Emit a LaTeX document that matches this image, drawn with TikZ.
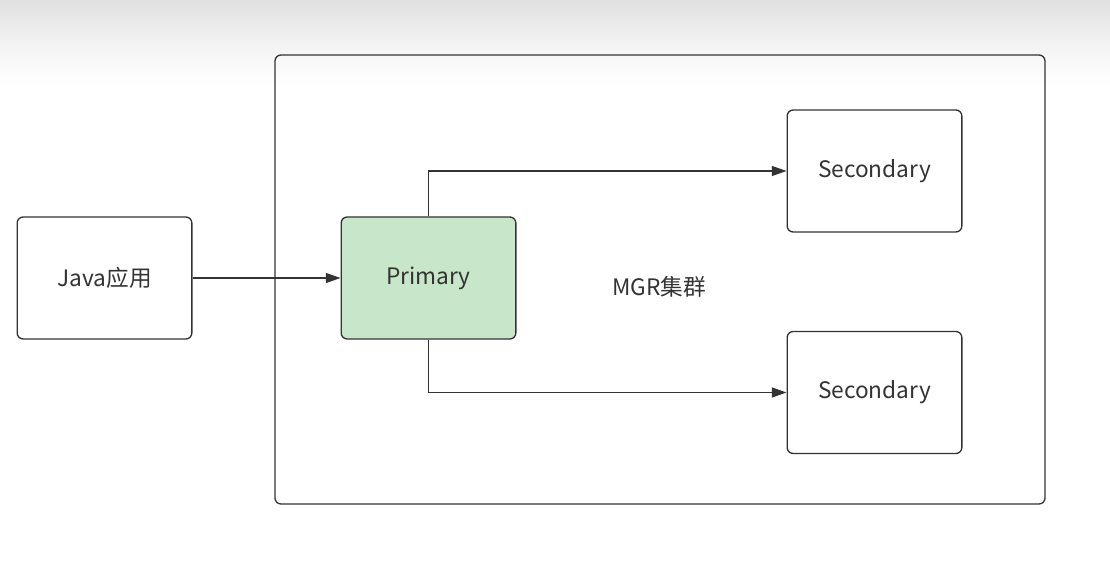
\documentclass[tikz,border=0pt]{standalone}
\usepackage{fontspec}
\setmainfont{Noto Sans CJK SC}
\usetikzlibrary{arrows.meta}
\definecolor{linegray}{HTML}{333333}
\definecolor{primgreen}{HTML}{C8E6C9}
\definecolor{topgray}{HTML}{E0E0E0}
\tikzset{
  box/.style={draw=linegray,line width=1pt,rounded corners=4.5pt,minimum width=131pt,minimum height=91.5pt,inner sep=0pt,text=linegray,font=\fontsize{17}{20}\selectfont},
  link/.style={draw=linegray,line width=0.9pt,-{Triangle[length=11pt,width=7.5pt]}}
}
\begin{document}
\begin{tikzpicture}[x=0.75pt,y=-0.75pt]
\useasboundingbox (0,0) rectangle (1110,580);
% -- screen shade
\shade[top color=topgray,bottom color=white,middle color=topgray!40] (0,0) rectangle (1110,85);
% -- cluster frame
\node[box,minimum width=577.5pt,minimum height=336.75pt] (mgr) at (660,279.5) {};
\node[text=linegray,font=\fontsize{17}{20}\selectfont] (mgrlabel) at (659,287) {MGR集群};
% -- define nodes
\node[box] (java) at (104.5,278) {Java应用};
\node[box,fill=primgreen] (primary) at (428.5,278) {Primary};
\node[box] (sec1) at (874.5,171) {Secondary};
\node[box] (sec2) at (874.5,392.5) {Secondary};
% -- draw lines
\draw[link] (java) -- (primary);
\draw[link] (primary.north) |- (sec1);
\draw[link] (primary.south) |- (sec2);
\end{tikzpicture}
\end{document}
